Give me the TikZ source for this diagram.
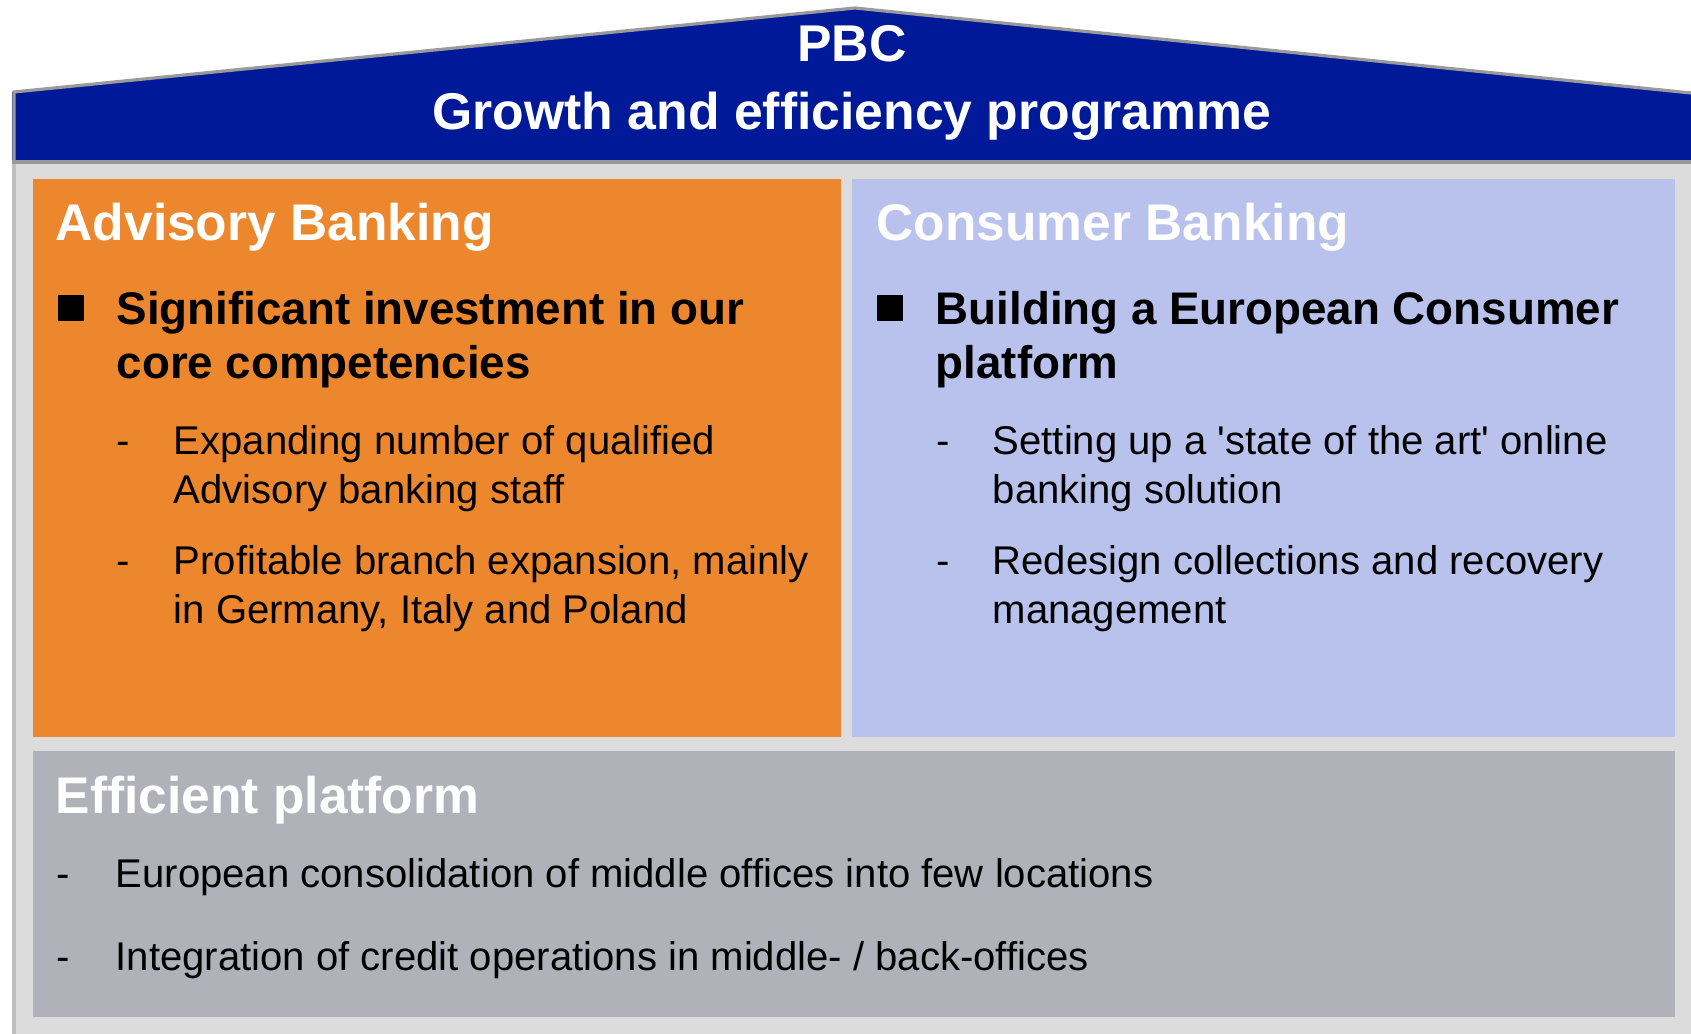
\documentclass[tikz,border=0pt]{standalone}
\usepackage{fontspec}
\setmainfont{Liberation Sans}[Ligatures=TeXOff]
\usetikzlibrary{calc}

\definecolor{roofblue}{RGB}{0,25,153}
\definecolor{roofedge}{RGB}{154,154,154}
\definecolor{wallgray}{RGB}{220,220,220}
\definecolor{walledge}{RGB}{190,190,190}
\definecolor{advorange}{RGB}{236,135,45}
\definecolor{conblue}{RGB}{184,194,236}
\definecolor{platgray}{RGB}{177,177,186}

\tikzset{
  title/.style={text=white, inner sep=0, anchor=base, font=\fontsize{14.7}{17}\selectfont\bfseries},
  heading/.style={text=white, inner sep=0, anchor=base west, font=\fontsize{14.65}{17}\selectfont\bfseries},
  point/.style={inner sep=0, anchor=base west, font=\fontsize{13}{15.4}\selectfont\bfseries},
  subpoint/.style={inner sep=0, anchor=base west, font=\fontsize{11.4}{13.9}\selectfont},
  square/.style={rectangle, fill=black, inner sep=0, minimum size=0.26cm}
}

\begin{document}
\begin{tikzpicture}[x=0.01cm, y=-0.01cm]

\useasboundingbox (0,0) rectangle (1691,1034);

% house
\fill[wallgray] (12,162) rectangle (1691,1034);
\draw[walledge, line width=1.1pt] (14,162) -- (14,1034);
\fill[roofblue] (12,92) -- (855,8) -- (1691,93) -- (1691,162) -- (12,162) -- cycle;
\draw[roofedge, line width=0.9pt] (14,162) -- (14,92) -- (855,8) -- (1691,93);
\draw[roofedge, line width=1pt] (12,162) -- (1691,162);

\node[title] (pbc) at (852,62) {PBC};
\node[title] (prog) at (852,130) {Growth and efficiency programme};

% panels
\fill[advorange] (33,179) rectangle (841,737);
\fill[conblue] (852,179) rectangle (1675,737);
\fill[platgray] (33,751) rectangle (1675,1017);

% advisory banking
\node[heading] (adv) at (55,241) {Advisory Banking};
\node[square] (advsq) at (71,308) {};
\node[point] (adv1) at (116,325) {Significant investment in our};
\node[point] (adv2) at (116,379) {core competencies};
\node[subpoint] (advd1) at (116,455) {-};
\node[subpoint] (adv11) at (173,455) {Expanding number of qualified};
\node[subpoint] (adv12) at (173,504) {Advisory banking staff};
\node[subpoint] (advd2) at (116,575) {-};
\node[subpoint] (adv21) at (173,575) {Profitable branch expansion, mainly};
\node[subpoint] (adv22) at (173,624) {in Germany, Italy and Poland};

% consumer banking
\node[heading] (con) at (876,241) {Consumer Banking};
\node[square] (consq) at (890,308) {};
\node[point] (con1) at (935,325) {Building a European Consumer};
\node[point] (con2) at (935,379) {platform};
\node[subpoint] (cond1) at (936,455) {-};
\node[subpoint] (con11) at (992,455) {Setting up a 'state of the art' online};
\node[subpoint] (con12) at (992,504) {banking solution};
\node[subpoint] (cond2) at (936,575) {-};
\node[subpoint] (con21) at (992,575) {Redesign collections and recovery};
\node[subpoint] (con22) at (992,624) {management};

% efficient platform
\node[heading] (plat) at (55,813) {Efficient platform};
\node[subpoint] (platd1) at (56,887) {-};
\node[subpoint] (plat1) at (115,887) {European consolidation of middle offices into few locations};
\node[subpoint] (platd2) at (56,970) {-};
\node[subpoint] (plat2) at (115,970) {Integration of credit operations in middle- / back-offices};

\end{tikzpicture}
\end{document}
